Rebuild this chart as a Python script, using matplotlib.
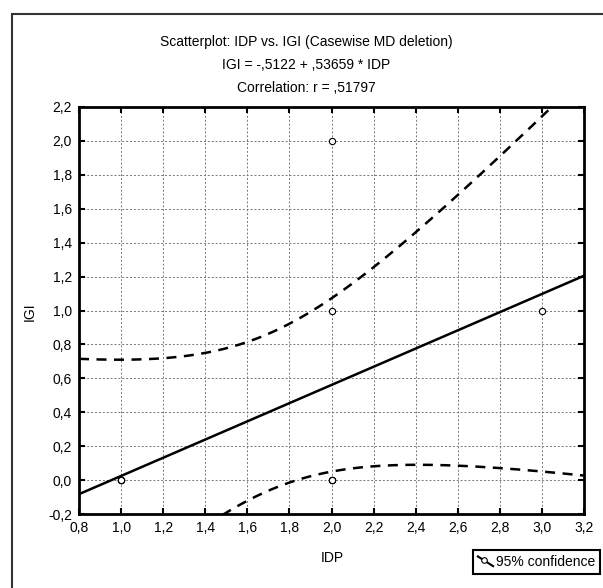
import numpy as np
import matplotlib.pyplot as plt
from matplotlib.lines import Line2D
from matplotlib.legend_handler import HandlerBase
from matplotlib.patches import Rectangle
from matplotlib.ticker import FuncFormatter

plt.rcParams['font.family'] = ['Liberation Sans', 'DejaVu Sans']

# Данные (совпадающие точки повторены)
idp = [1, 1, 1, 1, 2, 2, 2, 2, 2, 3]
igi = [0, 0, 0, 0, 0, 0, 0, 1, 2, 1]
t_95 = 2.306004  # t(0.975, df=8)

x_ticks = [0.8, 1.0, 1.2, 1.4, 1.6, 1.8, 2.0, 2.2, 2.4, 2.6, 2.8, 3.0, 3.2]
y_ticks = [-0.2, 0.0, 0.2, 0.4, 0.6, 0.8, 1.0, 1.2, 1.4, 1.6, 1.8, 2.0, 2.2]

x = np.array(idp, dtype=float)
y = np.array(igi, dtype=float)
n = len(x)
slope, intercept = np.polyfit(x, y, 1)
r = np.corrcoef(x, y)[0, 1]
resid = y - (intercept + slope * x)
s = np.sqrt(np.sum(resid ** 2) / (n - 2))
sxx = np.sum((x - x.mean()) ** 2)

xs = np.linspace(0.8, 3.2, 300)
yfit = intercept + slope * xs
half = t_95 * s * np.sqrt(1 / n + (xs - x.mean()) ** 2 / sxx)

W, H = 603, 588
fig = plt.figure(figsize=(W / 100, H / 100), dpi=100)
ax = fig.add_axes([79 / W, 1 - 514 / H, 505 / W, 407 / H])

ax.plot(xs, yfit, color='black', lw=1.8)
ax.plot(xs, yfit + half, color='black', lw=1.8, ls=(0, (4, 3)))
ax.plot(xs, yfit - half, color='black', lw=1.8, ls=(0, (4, 3)))
ax.plot(x, y, ls='none', marker='o', ms=4.5, mfc='white', mec='black', mew=0.8, zorder=5)

ax.set_xlim(0.8, 3.2)
ax.set_ylim(-0.2, 2.2)
ax.set_xticks(x_ticks)
ax.set_yticks(y_ticks)
fmt = FuncFormatter(lambda v, p: f"{v:.1f}".replace('.', ','))
ax.xaxis.set_major_formatter(fmt)
ax.yaxis.set_major_formatter(fmt)
ax.tick_params(direction='in', length=4, width=1.5, top=True, right=True,
               labelsize=10, pad=5)
ax.grid(True, color='#777777', ls=(0, (2, 2)), lw=0.7)
for sp in ax.spines.values():
    sp.set_linewidth(2)

fig.text(30 / W, 1 - 312 / H, 'IGI', rotation=90, ha='center', va='center', fontsize=10)
fig.text(332 / W, 1 - 558 / H, 'IDP', ha='center', va='center', fontsize=10)

titles = ['Scatterplot: IDP vs. IGI (Casewise MD deletion)',
          f'IGI = {intercept:.4f} + {slope:.5f} * IDP'.replace('0.', ','),
          f'Correlation: r = {r:.5f}'.replace('0.', ',')]
for i, t in enumerate(titles):
    fig.text(306 / W, 1 - (42 + 23 * i) / H, t, ha='center', va='center', fontsize=10)

# рамка вокруг всего графика
fig.patches.append(Rectangle((12 / W, -0.1), 1.2, 1 - 14 / H + 0.1, transform=fig.transFigure,
                             fill=False, edgecolor='#333333', lw=1.5))


class DiagHandler(HandlerBase):
    def create_artists(self, legend, orig_handle, xdescent, ydescent, width, height, fontsize, trans):
        x0, y0 = -xdescent, -ydescent
        line = Line2D([x0, x0 + width], [y0 + height, y0], color='black', lw=1.5, transform=trans)
        mk = Line2D([x0 + width * 0.4], [y0 + height * 0.6], marker='o', ms=4, mfc='white',
                    mec='black', mew=0.8, ls='none', transform=trans)
        return [line, mk]


h = Line2D([], [], color='black')
leg = fig.legend([h], ['95% confidence'], handler_map={Line2D: DiagHandler()},
                 loc='lower right', bbox_to_anchor=(600 / W, 1 - 574 / H),
                 fancybox=False, framealpha=1, edgecolor='black', fontsize=10,
                 handlelength=1.1, handletextpad=0.2, borderpad=0.35, borderaxespad=0)
leg.get_frame().set_linewidth(1.5)

plt.savefig('out.png', dpi=100)
